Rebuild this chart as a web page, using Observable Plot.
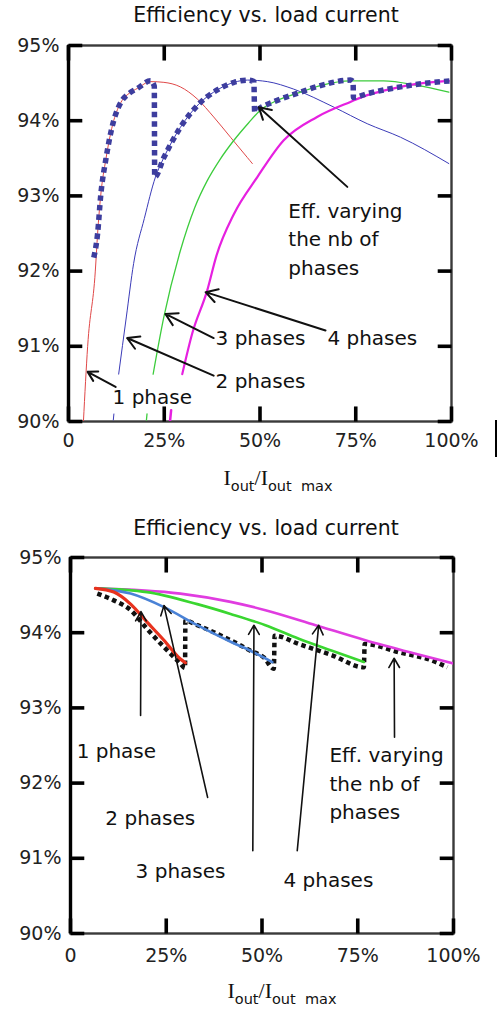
<!DOCTYPE html>
<html>
<head>
<meta charset="utf-8">
<script src="https://cdn.jsdelivr.net/npm/d3@7"></script>
<script src="https://cdn.jsdelivr.net/npm/@observablehq/plot@0.6"></script>
<style>
  html, body { margin: 0; padding: 0; background: #fff; }
  #page { position: relative; width: 497px; height: 1014px; overflow: hidden; font-family: "DejaVu Sans", sans-serif; color: #111; }
  .title { position: absolute; left: 0; width: 532px; text-align: center; font-size: 20.5px; line-height: 24px; color: #111; white-space: nowrap; }
  .xlabel { position: absolute; width: 200px; text-align: center; line-height: 22px; white-space: nowrap; color: #111; }
  .xlabel .I { font-family: "Liberation Serif", serif; font-size: 22px; }
  .xlabel .s { font-family: "DejaVu Sans", sans-serif; font-size: 14.5px; position: relative; top: 6px; }
  .chart { position: absolute; left: 0; }
  .chart svg { overflow: visible; }
  #artifact { position: absolute; left: 495px; top: 420px; width: 2px; height: 37px; background: #000; }
</style>
</head>
<body>
<div id="page">
  <div class="title" style="top:3px">Efficiency vs. load current</div>
  <div class="chart" id="topChart" style="top:0px"></div>
  <div class="xlabel" style="left:178px; top:467px"><span class="I">I</span><span class="s">out</span><span class="I">/I</span><span class="s">out&nbsp; max</span></div>
  <div id="artifact"></div>
  <div class="title" style="top:516px">Efficiency vs. load current</div>
  <div class="chart" id="botChart" style="top:505px"></div>
  <div class="xlabel" style="left:182px; top:980px"><span class="I">I</span><span class="s">out</span><span class="I">/I</span><span class="s">out&nbsp; max</span></div>
</div>
<script>
// ---------- axis ticks ----------
const xTicks = [0, 25, 50, 75, 100];
const yTicks = [90, 91, 92, 93, 94, 95];

// ---------- top chart: efficiency (%) vs load (% of Iout max) ----------
const topOnePhase = [[3.9,90.0],[5.0,91.0],[7.0,92.0],[7.6,92.5],[8.4,93.0],[9.8,93.5],[11.8,94.0],[12.8,94.15],[14.0,94.27],[16.0,94.37],[18.0,94.43],[21.4,94.52],[24.9,94.51],[29.2,94.45],[33.6,94.29],[37.9,94.05],[42.3,93.78],[46.7,93.51],[48.0,93.43]];
const topTwoPhases = [[13.1,90.63],[15.1,91.39],[17.0,92.1],[19.8,92.7],[22.7,93.25],[24.9,93.51],[29.2,93.91],[34.0,94.22],[39.2,94.42],[43.2,94.51],[46.7,94.54],[51.9,94.52],[58.8,94.42],[69.3,94.18],[78.0,93.96],[86.7,93.78],[99.3,93.43]];
const topThreePhases = [[22.1,90.63],[24.9,91.39],[29.2,92.27],[33.0,92.85],[36.2,93.2],[39.5,93.48],[43.2,93.74],[47.0,93.97],[50.1,94.14],[54.5,94.27],[60.6,94.38],[66.0,94.47],[73.6,94.53],[82.3,94.53],[91.0,94.47],[99.3,94.38]];
const topFourPhases = [[29.7,90.63],[32.3,91.17],[36.2,91.74],[38.6,92.2],[43.2,92.76],[49.3,93.25],[56.2,93.74],[64.9,94.05],[73.6,94.25],[78.0,94.34],[82.3,94.40],[86.7,94.45],[91.0,94.49],[99.3,94.53]];
const topTwoTail = [[11.7,90.02],[11.85,90.1]];
const topThreeTail = [[20.35,90.02],[20.5,90.1]];
const topFourTail = [[26.5,90.0],[26.8,90.15]];
const topVarying = [[6.6,92.18],[7.6,92.5],[8.4,93.0],[9.8,93.5],[11.8,94.0],[12.8,94.15],[14.0,94.27],[16.0,94.37],[18.0,94.43],[21.4,94.53],[22.4,94.46],[22.5,93.25],[24.9,93.51],[29.2,93.91],[34.0,94.22],[39.2,94.42],[43.2,94.51],[46.7,94.54],[48.4,94.52],[48.6,94.12],[50.1,94.17],[54.5,94.27],[60.6,94.38],[66.0,94.47],[73.6,94.54],[74.3,94.52],[74.4,94.31],[78.0,94.36],[86.7,94.45],[95.4,94.51],[99.6,94.53]];
const topLabels = [
  {x: 11.5, y: 90.36, text: "1 phase"},
  {x: 38.4, y: 90.57, text: "2 phases"},
  {x: 38.4, y: 91.14, text: "3 phases"},
  {x: 67.6, y: 91.14, text: "4 phases"},
  {x: 57.4, y: 92.45, text: "Eff. varying\nthe nb of\nphases"}
];
const topArrows = [
  {x1: 12.3, y1: 90.46, x2: 5.0, y2: 90.66},
  {x1: 37.9, y1: 90.61, x2: 15.3, y2: 91.11},
  {x1: 37.9, y1: 91.11, x2: 25.3, y2: 91.43},
  {x1: 67.1, y1: 91.21, x2: 35.8, y2: 91.72},
  {x1: 72.8, y1: 93.12, x2: 49.7, y2: 94.18}
];

// ---------- bottom chart ----------
const botOnePhase = [[6.5,94.59],[11.3,94.54],[15.7,94.38],[20.0,94.14],[24.4,93.90],[28.7,93.65],[30.0,93.60]];
const botTwoPhases = [[6.5,94.59],[15.7,94.52],[24.4,94.34],[33.1,94.10],[41.8,93.88],[47.0,93.76],[52.7,93.61]];
const botThreePhases = [[6.5,94.59],[20.0,94.54],[33.1,94.38],[41.8,94.25],[50.9,94.10],[59.6,93.92],[68.3,93.76],[76.6,93.61]];
const botFourPhases = [[6.5,94.59],[28.7,94.52],[41.8,94.41],[50.9,94.30],[64.0,94.10],[77.0,93.90],[90.1,93.72],[100,93.59]];
const botVarying = [[7.0,94.52],[11.3,94.43],[15.7,94.30],[20.0,94.05],[24.4,93.81],[28.7,93.59],[29.9,93.53],[30.0,94.16],[33.1,94.10],[41.8,93.90],[47.0,93.76],[50.5,93.67],[53.1,93.52],[53.3,93.96],[59.6,93.85],[68.3,93.70],[76.6,93.54],[76.8,93.85],[85.7,93.74],[94.4,93.63],[98.4,93.54]];
const botLabels = [
  {x: 1.6, y: 92.46, text: "1 phase"},
  {x: 9.1, y: 91.57, text: "2 phases"},
  {x: 17.0, y: 90.86, text: "3 phases"},
  {x: 55.6, y: 90.74, text: "4 phases"},
  {x: 67.6, y: 92.02, text: "Eff. varying\nthe nb of\nphases"}
];
const botArrows = [
  {x1: 18.3, y1: 92.90, x2: 18.4, y2: 94.28},
  {x1: 35.8, y1: 91.81, x2: 24.4, y2: 94.36},
  {x1: 47.6, y1: 91.10, x2: 47.9, y2: 94.10},
  {x1: 59.2, y1: 91.10, x2: 64.8, y2: 94.10},
  {x1: 84.6, y1: 92.61, x2: 84.5, y2: 93.66}
];

const FONT = "DejaVu Sans";
const pct = d => d === 0 ? "0" : d + "%";

// inward tick marks on all four sides, lengths in axis units (~14 px)
const TX = 3.6, TY = 0.2;
const tickSegments = [
  ...yTicks.flatMap(v => [{x: 0, y: v, k: "L" + v}, {x: TX, y: v, k: "L" + v}]),
  ...yTicks.flatMap(v => [{x: 100 - TX, y: v, k: "R" + v}, {x: 100, y: v, k: "R" + v}]),
  ...xTicks.flatMap(v => [{x: v, y: 90, k: "B" + v}, {x: v, y: 90 + TY, k: "B" + v}]),
  ...xTicks.flatMap(v => [{x: v, y: 95 - TY, k: "T" + v}, {x: v, y: 95, k: "T" + v}])
];

function axisMarks(xPad) {
  return [
    Plot.frame({stroke: "#3a3a3a", strokeWidth: 2.4}),
    Plot.axisY(yTicks, {anchor: "left", tickSize: 0, tickPadding: 9, tickFormat: d => d + "%", fontSize: 19, fill: "#222", label: null}),
    Plot.axisX(xTicks, {anchor: "bottom", tickSize: 0, tickPadding: xPad, tickFormat: pct, fontSize: 19, fill: "#222", label: null})
  ];
}
// drawn last so nothing covers them
function tickMarks() {
  return [
    Plot.ruleX([0], {y1: 90, y2: 95, stroke: "#000", strokeWidth: 3.4}),
    Plot.line(tickSegments, {x: "x", y: "y", z: "k", stroke: "#000", strokeWidth: 3.6, strokeLinecap: "butt"})
  ];
}

function lineOpts(color, w, extra = {}) {
  return {stroke: color, strokeWidth: w, curve: "monotone-x", clip: true, ...extra};
}

const topPlot = Plot.plot({
  width: 497, height: 500,
  marginTop: 45, marginBottom: 79, marginLeft: 68, marginRight: 46,
  x: {domain: [0, 100]},
  y: {domain: [90, 95]},
  style: {fontFamily: FONT, fontSize: "19px", color: "#222", background: "transparent", overflow: "visible"},
  marks: [
    ...axisMarks(12),
    Plot.line(topOnePhase, lineOpts("#e04848", 1)),
    Plot.line(topTwoPhases, lineOpts("#3b3bb8", 1)),
    Plot.line(topThreePhases, lineOpts("#3ccc3c", 1.3)),
    Plot.line(topFourPhases, lineOpts("#e620e0", 2.2)),
    Plot.line(topTwoTail, lineOpts("#3b3bb8", 1)),
    Plot.line(topThreeTail, lineOpts("#3ccc3c", 1.3)),
    Plot.line(topFourTail, lineOpts("#e620e0", 2.5)),
    Plot.line(topVarying, lineOpts("#3d3d9e", 5.5, {strokeDasharray: "5.5,4", strokeLinecap: "butt", strokeLinejoin: "miter"})),
    Plot.arrow(topArrows, {x1: "x1", y1: "y1", x2: "x2", y2: "y2", stroke: "#111", strokeWidth: 2, headLength: 10}),
    Plot.text(topLabels, {x: "x", y: "y", text: "text", textAnchor: "start", lineAnchor: "middle", fontSize: 20, lineHeight: 1.42, fill: "#111", fontFamily: FONT}),
    ...tickMarks()
  ]
});
document.getElementById("topChart").appendChild(topPlot);

const botPlot = Plot.plot({
  width: 497, height: 509,
  marginTop: 52, marginBottom: 81, marginLeft: 70, marginRight: 44,
  x: {domain: [0, 100]},
  y: {domain: [90, 95]},
  style: {fontFamily: FONT, fontSize: "19px", color: "#222", background: "transparent", overflow: "visible"},
  marks: [
    ...axisMarks(15),
    Plot.line(botVarying, lineOpts("#111", 4.5, {strokeDasharray: "4.5,3.5", strokeLinecap: "butt", strokeLinejoin: "miter"})),
    Plot.line(botFourPhases, lineOpts("#e03ce0", 2.6)),
    Plot.line(botThreePhases, lineOpts("#3ad630", 2.6)),
    Plot.line(botTwoPhases, lineOpts("#4a82d6", 2.6)),
    Plot.line(botOnePhase, lineOpts("#e8321e", 3.2)),
    Plot.arrow(botArrows, {x1: "x1", y1: "y1", x2: "x2", y2: "y2", stroke: "#111", strokeWidth: 1.6, headLength: 10}),
    Plot.text(botLabels, {x: "x", y: "y", text: "text", textAnchor: "start", lineAnchor: "middle", fontSize: 20, lineHeight: 1.42, fill: "#111", fontFamily: FONT}),
    ...tickMarks()
  ]
});
document.getElementById("botChart").appendChild(botPlot);
</script>
</body>
</html>
